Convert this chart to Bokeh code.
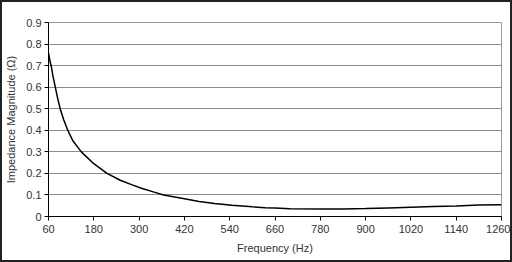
from bokeh.plotting import figure
from bokeh.embed import file_html
from bokeh.resources import INLINE
from bokeh.models import FixedTicker, Range1d

# Data
freq_hz = [60, 64, 67, 72, 78, 84, 91, 100, 111, 125, 147, 180, 215, 250, 280, 308,
           340, 365, 413, 459, 500, 546, 600, 634, 660, 700, 780, 840, 900, 960,
           1020, 1080, 1140, 1200, 1260]
impedance_ohm = [0.76, 0.72, 0.70, 0.65, 0.60, 0.55, 0.50, 0.45, 0.40, 0.35, 0.30,
                 0.245, 0.20, 0.168, 0.148, 0.13, 0.113, 0.10, 0.085, 0.070, 0.060,
                 0.052, 0.045, 0.041, 0.039, 0.036, 0.035, 0.035, 0.037, 0.040,
                 0.043, 0.046, 0.049, 0.053, 0.055]
x_ticks = [60, 180, 300, 420, 540, 660, 780, 900, 1020, 1140, 1260]
y_ticks = [0, 0.1, 0.2, 0.3, 0.4, 0.5, 0.6, 0.7, 0.8, 0.9]
y_tick_labels = ["0", "0.1", "0.2", "0.3", "0.4", "0.5", "0.6", "0.7", "0.8", "0.9"]

FONT = "Liberation Sans"
TXT = "#333333"

p = figure(width=512, height=262, output_backend="svg", toolbar_location=None,
           x_range=Range1d(60, 1260), y_range=Range1d(0, 0.9),
           min_border_left=44, min_border_right=13, min_border_top=20,
           min_border_bottom=48)
p.styles = {"border": "2px solid #222222", "box-sizing": "border-box"}

p.line(freq_hz, impedance_ohm, line_color="black", line_width=1.5)

p.outline_line_color = "#999999"
p.outline_line_width = 1
p.xgrid.grid_line_color = None
p.ygrid.grid_line_color = "#8a8a8a"
p.ygrid.grid_line_width = 1

p.xaxis.ticker = FixedTicker(ticks=x_ticks)
p.yaxis.ticker = FixedTicker(ticks=y_ticks)
p.yaxis.major_label_overrides = {t: l for t, l in zip(y_ticks, y_tick_labels)}

for ax in (p.xaxis[0], p.yaxis[0]):
    ax.axis_line_color = "black"
    ax.axis_line_width = 1
    ax.major_tick_line_color = "black"
    ax.major_tick_out = 4
    ax.major_tick_in = 0
    ax.minor_tick_line_color = None
    ax.major_label_text_font = FONT
    ax.major_label_text_font_size = "11px"
    ax.major_label_text_color = TXT
    ax.axis_label_text_font = FONT
    ax.axis_label_text_font_size = "11px"
    ax.axis_label_text_font_style = "normal"
    ax.axis_label_text_color = TXT

p.xaxis.axis_label = "Frequency (Hz)"
p.yaxis.axis_label = "Impedance Magnitude (\u03a9)"
p.xaxis.major_label_standoff = 4
p.yaxis.major_label_standoff = 3
p.xaxis.axis_label_standoff = 6
p.yaxis.axis_label_standoff = 6

open("out.html", "w").write(file_html(p, INLINE))
